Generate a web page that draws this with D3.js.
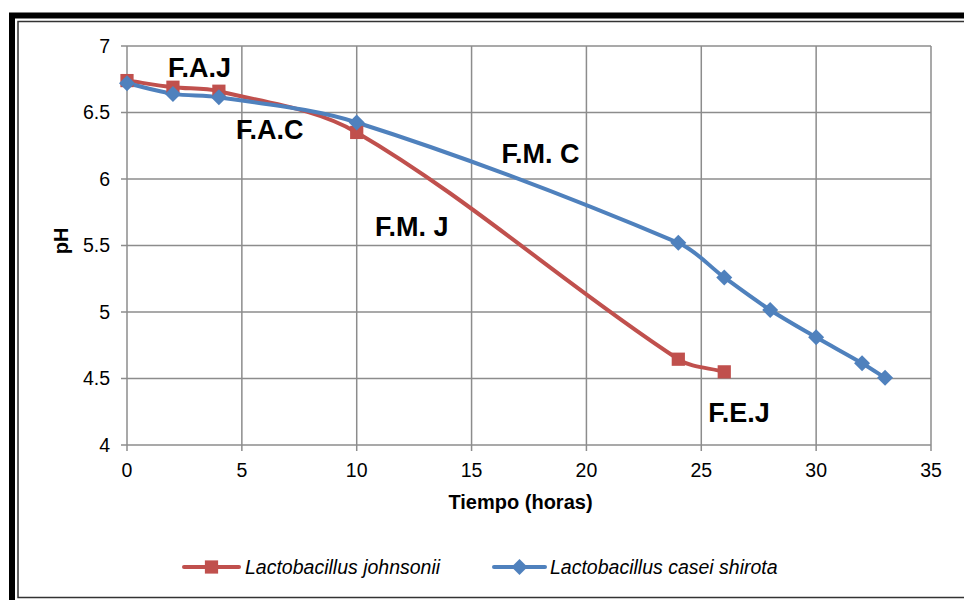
<!DOCTYPE html>
<html><head><meta charset="utf-8">
<script src="https://cdn.jsdelivr.net/npm/d3@7"></script>
<style>body{margin:0;background:#fff}svg{display:block}text{font-family:"Liberation Sans",Arial,sans-serif}</style>
</head><body><svg id="c" width="964" height="600"></svg>
<script>
const xTicks = [0,5,10,15,20,25,30,35];
const yTicks = [4,4.5,5,5.5,6,6.5,7];
const johnsoniiX = [0,2,4,10,24,26];
const johnsoniiY = [6.74,6.69,6.66,6.35,4.645,4.55];
const caseiX = [0,2,4,10,24,26,28,30,32,33];
const caseiY = [6.72,6.64,6.615,6.425,5.52,5.26,5.015,4.81,4.615,4.505];
const seriesNames = ["Lactobacillus johnsonii","Lactobacillus casei shirota"];
const annotations = [
  {t:"F.A.J", x:1.78, y:6.77},
  {t:"F.A.C", x:4.75, y:6.30},
  {t:"F.M. C", x:16.3, y:6.12},
  {t:"F.M. J", x:10.8, y:5.57},
  {t:"F.E.J", x:25.3, y:4.17}
];

// Excel-like smoothing: tangent direction from neighbours, handle length = segment length / 3
function SmoothCurve(context){ this._context = context; }
SmoothCurve.prototype = {
  areaStart(){ this._line = 0; }, areaEnd(){ this._line = NaN; },
  lineStart(){ this._p = []; },
  point(x,y){ this._p.push([+x,+y]); },
  lineEnd(){
    const p = this._p, c = this._context, n = p.length;
    if (!n) return;
    c.moveTo(p[0][0], p[0][1]);
    if (n === 1) return;
    const dir = p.map((q,i)=>{
      const a = p[Math.max(0,i-1)], b = p[Math.min(n-1,i+1)];
      const dx = b[0]-a[0], dy = b[1]-a[1], l = Math.hypot(dx,dy)||1;
      return [dx/l, dy/l];
    });
    for (let i=0;i<n-1;i++){
      const a=p[i], b=p[i+1], L=Math.hypot(b[0]-a[0],b[1]-a[1])/3;
      c.bezierCurveTo(a[0]+dir[i][0]*L, a[1]+dir[i][1]*L,
                      b[0]-dir[i+1][0]*L, b[1]-dir[i+1][1]*L, b[0], b[1]);
    }
  }
};
const excelSmooth = ctx => new SmoothCurve(ctx);

const svg = d3.select("#c");
// frame
svg.append("rect").attr("x",12).attr("y",15.5).attr("width",1000).attr("height",700)
  .attr("fill","none").attr("stroke","#000").attr("stroke-width",6);
svg.append("rect").attr("x",18).attr("y",21.5).attr("width",1000).attr("height",576)
  .attr("fill","none").attr("stroke","#333").attr("stroke-width",1.5);

const x = d3.scaleLinear().domain([0,35]).range([127,931]);
const y = d3.scaleLinear().domain([4,7]).range([445,46]);
const grid = "#8c8c8c";

const g = svg.append("g");
g.selectAll(".vg").data(xTicks).join("line")
  .attr("x1",d=>x(d)).attr("x2",d=>x(d)).attr("y1",y(7)).attr("y2",y(4)+6)
  .attr("stroke",grid).attr("stroke-width",1.5);
g.selectAll(".hg").data(yTicks).join("line")
  .attr("x1",x(0)-6).attr("x2",x(35)).attr("y1",d=>y(d)).attr("y2",d=>y(d))
  .attr("stroke",grid).attr("stroke-width",1.5);

// tick labels
g.selectAll(".xl").data(xTicks).join("text")
  .attr("x",d=>x(d)).attr("y",477).attr("text-anchor","middle")
  .attr("font-size",19.5).attr("fill","#000").text(d=>d);
g.selectAll(".yl").data(yTicks).join("text")
  .attr("x",110).attr("y",d=>y(d)).attr("dy","0.35em").attr("text-anchor","end")
  .attr("font-size",19.5).attr("fill","#000").text(d=>d);

svg.append("text").attr("x",520.5).attr("y",509).attr("text-anchor","middle")
  .attr("font-size",20).attr("font-weight","bold").text("Tiempo (horas)");
svg.append("text").attr("transform","translate(68,241) rotate(-90)").attr("text-anchor","middle")
  .attr("font-size",20).attr("font-weight","bold").text("pH");

const line = d3.line().x(d=>x(d[0])).y(d=>y(d[1])).curve(excelSmooth);
const red = "#C0504D", blue = "#4F81BD";
const jData = johnsoniiX.map((v,i)=>[v,johnsoniiY[i]]);
const cData = caseiX.map((v,i)=>[v,caseiY[i]]);

svg.append("path").attr("d",line(jData)).attr("fill","none").attr("stroke",red).attr("stroke-width",4);
svg.append("path").attr("d",line(cData)).attr("fill","none").attr("stroke",blue).attr("stroke-width",4);

const sq = d3.symbol().type(d3.symbolSquare).size(175);
const dm = "M0,-8L8,0L0,8L-8,0Z";
svg.selectAll(".jm").data(jData).join("path").attr("d",sq)
  .attr("transform",d=>`translate(${x(d[0])},${y(d[1])})`).attr("fill",red);
svg.selectAll(".cm").data(cData).join("path").attr("d",dm)
  .attr("transform",d=>`translate(${x(d[0])},${y(d[1])})`).attr("fill",blue);

svg.selectAll(".an").data(annotations).join("text")
  .attr("x",d=>x(d.x)).attr("y",d=>y(d.y)).attr("font-size",27).attr("font-weight","bold")
  .attr("fill","#000").text(d=>d.t);

// legend
const leg = [{c:red, s:sq(), x0:184, x1:239, tx:245, name:seriesNames[0]},
             {c:blue, s:dm, x0:494, x1:545, tx:550, name:seriesNames[1]}];
leg.forEach(l=>{
  svg.append("line").attr("x1",l.x0).attr("x2",l.x1).attr("y1",567).attr("y2",567)
    .attr("stroke",l.c).attr("stroke-width",4).attr("stroke-linecap","round");
  svg.append("path").attr("d",l.s).attr("transform",`translate(${(l.x0+l.x1)/2},567)`).attr("fill",l.c);
  svg.append("text").attr("x",l.tx).attr("y",567).attr("dy","0.35em").attr("font-size",19.5)
    .attr("font-style","italic").text(l.name);
});
</script></body></html>
